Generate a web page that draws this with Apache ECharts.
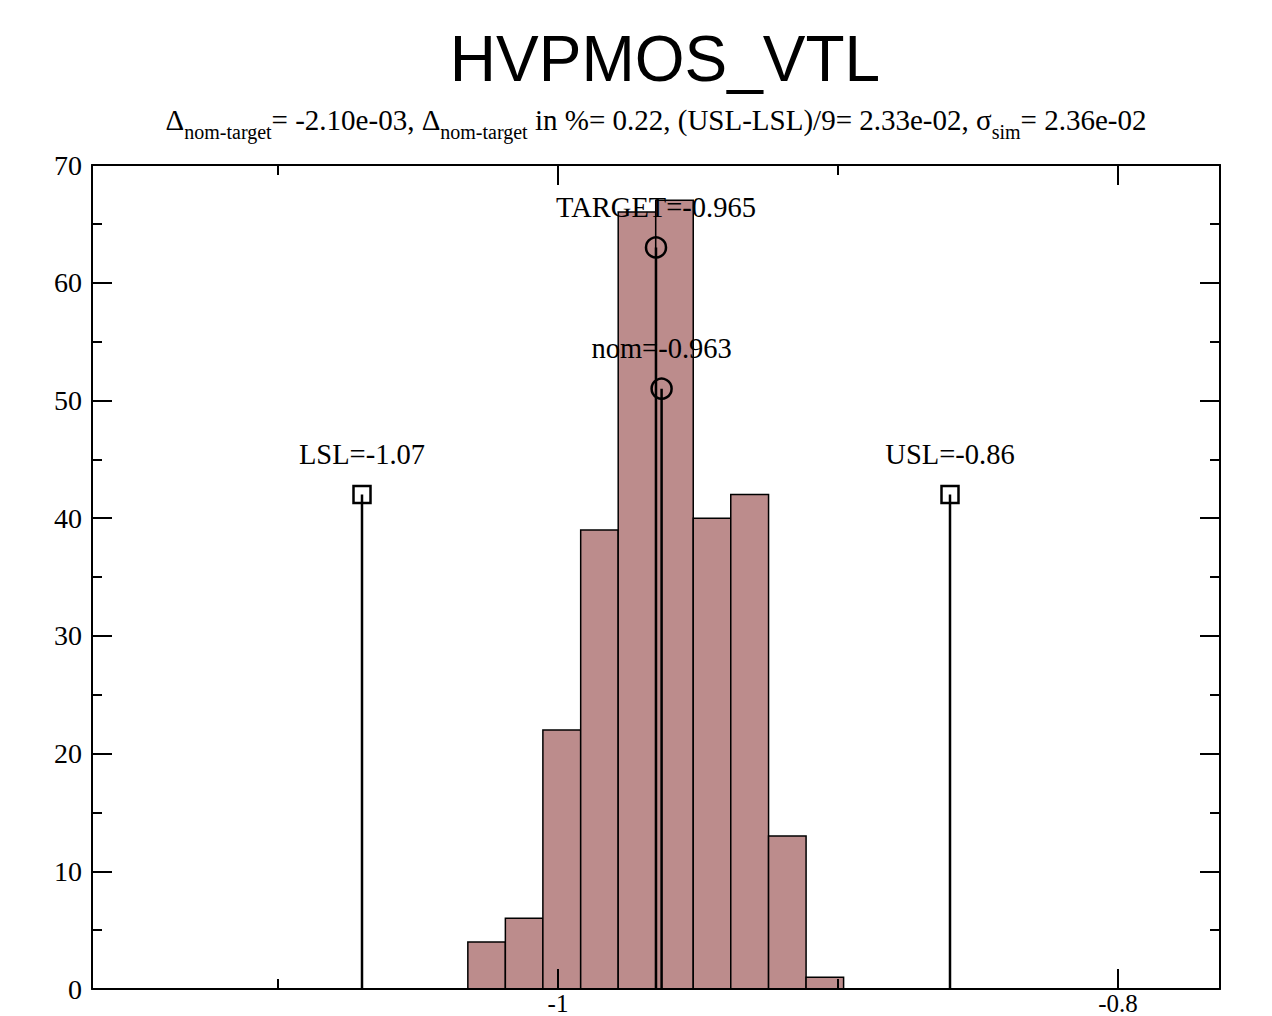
<!DOCTYPE html>
<html>
<head>
<meta charset="utf-8">
<script src="https://cdn.jsdelivr.net/npm/echarts@6/dist/echarts.min.js"></script>
<style>
html,body{margin:0;padding:0;background:#fff;}
#chart{width:1272px;height:1016px;}
</style>
</head>
<body>
<div id="chart"></div>
<script>
// Histogram bins (edges) and counts
const binEdges = [-1.0322, -1.0188, -1.0054, -0.9919, -0.9785, -0.9651, -0.9517, -0.9383, -0.9248, -0.9114, -0.8980];
const binCounts = [4, 6, 22, 39, 66, 67, 40, 42, 13, 1];

// Spec markers
const markerX = [-1.07, -0.965, -0.963, -0.86];
const markerY = [42, 63, 51, 42];
const markerLabels = ['LSL=-1.07', 'TARGET=-0.965', 'nom=-0.963', 'USL=-0.86'];
const markerSymbols = ['rect', 'circle', 'circle', 'rect'];

// Axis ticks
const xMajorTicks = [-1, -0.8];
const xMinorTicks = [-1.1, -0.9];
const xMin = -1.16643, xMax = -0.76357;
const yMin = 0, yMax = 70, yStep = 10;

const titleText = 'HVPMOS_VTL';
const subtitleRich = '{m|Δ}{s|nom-target}{m|= -2.10e-03, Δ}{s|nom-target}{m| in %= 0.22, (USL-LSL)/9= 2.33e-02, σ}{s|sim}{m|= 2.36e-02}';

const serif = '"Liberation Serif", "DejaVu Serif", serif';
const sans = '"Liberation Sans", Arial, sans-serif';

const histData = binCounts.map((c, i) => [binEdges[i], binEdges[i + 1], c]);
const stemData = markerX.map((x, i) => [x, markerY[i]]);
const pointData = markerX.map((x, i) => ({
  value: [x, markerY[i]],
  symbol: markerSymbols[i],
  symbolSize: markerSymbols[i] === 'rect' ? 17 : 20,
  label: { formatter: markerLabels[i] }
}));

function xAxisDef(pos, ticks, len, showLine, showLabel) {
  return {
    type: 'value', position: pos, min: xMin, max: xMax, z: 10,
    axisLine: { show: showLine, onZero: false, lineStyle: { color: '#000', width: 2 } },
    axisTick: { show: true, inside: true, length: len, customValues: ticks, lineStyle: { color: '#000', width: 2 } },
    axisLabel: showLabel ? {
      show: true, customValues: ticks, color: '#000', fontFamily: serif, fontSize: 25, margin: 2, lineHeight: 25,
      formatter: v => String(Math.round(v * 10) / 10)
    } : { show: false },
    splitLine: { show: false }
  };
}
function yAxisDef(pos, showLabel) {
  return {
    type: 'value', position: pos, min: yMin, max: yMax, interval: yStep, z: 10,
    axisLine: { show: true, onZero: false, lineStyle: { color: '#000', width: 2 } },
    axisTick: { show: true, inside: true, length: 20, lineStyle: { color: '#000', width: 2 } },
    minorTick: { show: true, splitNumber: 2, length: 10, lineStyle: { color: '#000', width: 2 } },
    axisLabel: { show: showLabel, color: '#000', fontFamily: serif, fontSize: 28, margin: 10 },
    splitLine: { show: false }, minorSplitLine: { show: false }
  };
}

const chart = echarts.init(document.getElementById('chart'), null, { renderer: 'svg' });
chart.setOption({
  backgroundColor: '#fff',
  animation: false,
  graphic: [
    { type: 'text', x: 665, y: 27, style: { text: titleText, font: '64px ' + sans, fill: '#000', textAlign: 'center' } },
    { type: 'text', x: 656, y: 105, style: {
        text: subtitleRich, fill: '#000', textAlign: 'center',
        rich: {
          m: { fontFamily: serif, fontSize: 29, lineHeight: 31, verticalAlign: 'top', color: '#000' },
          s: { fontFamily: serif, fontSize: 20, lineHeight: 23, padding: [17, 0, 0, 0], verticalAlign: 'top', color: '#000' }
        }
      } }
  ],
  grid: { left: 92, right: 52, top: 165, bottom: 27, containLabel: false, outerBoundsMode: 'none' },
  xAxis: [
    xAxisDef('bottom', xMajorTicks, 20, true, true),
    xAxisDef('bottom', xMinorTicks, 10, false, false),
    xAxisDef('top', xMajorTicks, 20, true, false),
    xAxisDef('top', xMinorTicks, 10, false, false)
  ],
  yAxis: [yAxisDef('left', true), yAxisDef('right', false)],
  series: [
    {
      type: 'custom', xAxisIndex: 0, yAxisIndex: 0, z: 2,
      data: histData,
      encode: { x: [0, 1], y: 2 },
      renderItem: function (params, api) {
        const p0 = api.coord([api.value(0), 0]);
        const p1 = api.coord([api.value(1), api.value(2)]);
        return {
          type: 'rect',
          shape: { x: p0[0], y: p1[1], width: p1[0] - p0[0], height: p0[1] - p1[1] },
          style: { fill: '#bc8c8c', stroke: '#000', lineWidth: 1.5 }
        };
      }
    },
    {
      type: 'custom', xAxisIndex: 0, yAxisIndex: 0, z: 3,
      data: stemData,
      encode: { x: 0, y: 1 },
      renderItem: function (params, api) {
        const a = api.coord([api.value(0), 0]);
        const b = api.coord([api.value(0), api.value(1)]);
        return {
          type: 'line',
          shape: { x1: a[0], y1: a[1], x2: b[0], y2: b[1] },
          style: { stroke: '#000', lineWidth: 2.5 }
        };
      }
    },
    {
      type: 'scatter', xAxisIndex: 0, yAxisIndex: 0, z: 4,
      data: pointData,
      itemStyle: { color: 'rgba(0,0,0,0)', borderColor: '#000', borderWidth: 2.5, opacity: 1 },
      label: {
        show: true, position: 'inside', offset: [0, -40],
        color: '#000', fontFamily: serif, fontSize: 28.5
      }
    }
  ]
});
</script>
</body>
</html>
